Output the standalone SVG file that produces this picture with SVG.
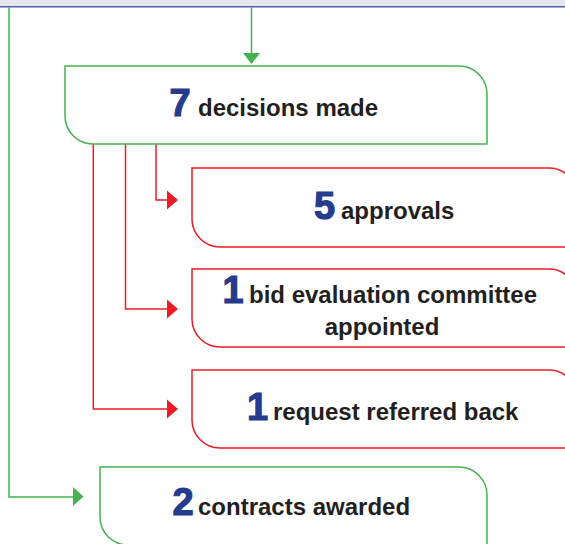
<svg xmlns="http://www.w3.org/2000/svg" width="565" height="544" viewBox="0 0 565 544">
  <style>
    .g { fill: none; stroke: #45b14f; stroke-width: 1.5; }
    .r { fill: none; stroke: #ed1c24; stroke-width: 1.5; }
    .box-g { fill: #ffffff; stroke: #45b14f; stroke-width: 1.5; }
    .box-r { fill: #ffffff; stroke: #ed1c24; stroke-width: 1.5; }
    .ah-g { fill: #45b14f; }
    .ah-r { fill: #ed1c24; }
    .num { font-family: "Liberation Sans", Arial, sans-serif; font-weight: bold; font-size: 38px; fill: #253c8e; stroke: #253c8e; stroke-width: 1.2; text-anchor: middle; }
    .lbl { font-family: "Liberation Sans", Arial, sans-serif; font-weight: bold; font-size: 24px; fill: #231f20; }
  </style>
  <rect x="0" y="0" width="565" height="6" fill="#e6e7f1"/>
  <rect x="0" y="6" width="565" height="1.5" fill="#4f60a8"/>

  <g id="connectors">
    <path class="g" d="M251.5,7.5 V55"/>
    <polygon class="ah-g" points="243,53 260,53 251.5,64"/>
    <path class="g" d="M9,7.5 V497 H74"/>
    <polygon class="ah-g" points="73,487 83.5,496.5 73,506"/>
    <path class="r" d="M156,144 V200 H168"/>
    <polygon class="ah-r" points="167,190.5 178,200 167,209.5"/>
    <path class="r" d="M125.5,144 V309 H168"/>
    <polygon class="ah-r" points="167,299.5 178,309 167,318.5"/>
    <path class="r" d="M93.3,144 V409 H168"/>
    <polygon class="ah-r" points="167,399.5 178,409 167,418.5"/>
  </g>

  <g id="node-decisions">
    <path class="box-g" d="M65,66 H459 A28,28 0 0 1 487,94 V144 H93 A28,28 0 0 1 65,116 Z"/>
    <text class="num" x="180" y="116">7</text>
    <text class="lbl" x="198" y="116">decisions made</text>
  </g>

  <g id="node-approvals">
    <path class="box-r" d="M192,168 H549 A28,28 0 0 1 577,196 V247 H220 A28,28 0 0 1 192,219 Z"/>
    <text class="num" x="324.5" y="219">5</text>
    <text class="lbl" x="341" y="219">approvals</text>
  </g>

  <g id="node-committee">
    <path class="box-r" d="M192,269 H549 A28,28 0 0 1 577,297 V347 H220 A28,28 0 0 1 192,319 Z"/>
    <text class="num" x="233" y="303">1</text>
    <text class="lbl" x="249" y="303">bid evaluation committee</text>
    <text class="lbl" x="382" y="335" text-anchor="middle">appointed</text>
  </g>

  <g id="node-referred">
    <path class="box-r" d="M192,370 H549 A28,28 0 0 1 577,398 V448 H220 A28,28 0 0 1 192,420 Z"/>
    <text class="num" x="257.5" y="420">1</text>
    <text class="lbl" x="273" y="420">request referred back</text>
  </g>

  <g id="node-contracts">
    <path class="box-g" d="M100,467 H459 A28,28 0 0 1 487,495 V545 H128 A28,28 0 0 1 100,517 Z"/>
    <text class="num" x="183" y="515">2</text>
    <text class="lbl" x="198" y="515">contracts awarded</text>
  </g>
</svg>
